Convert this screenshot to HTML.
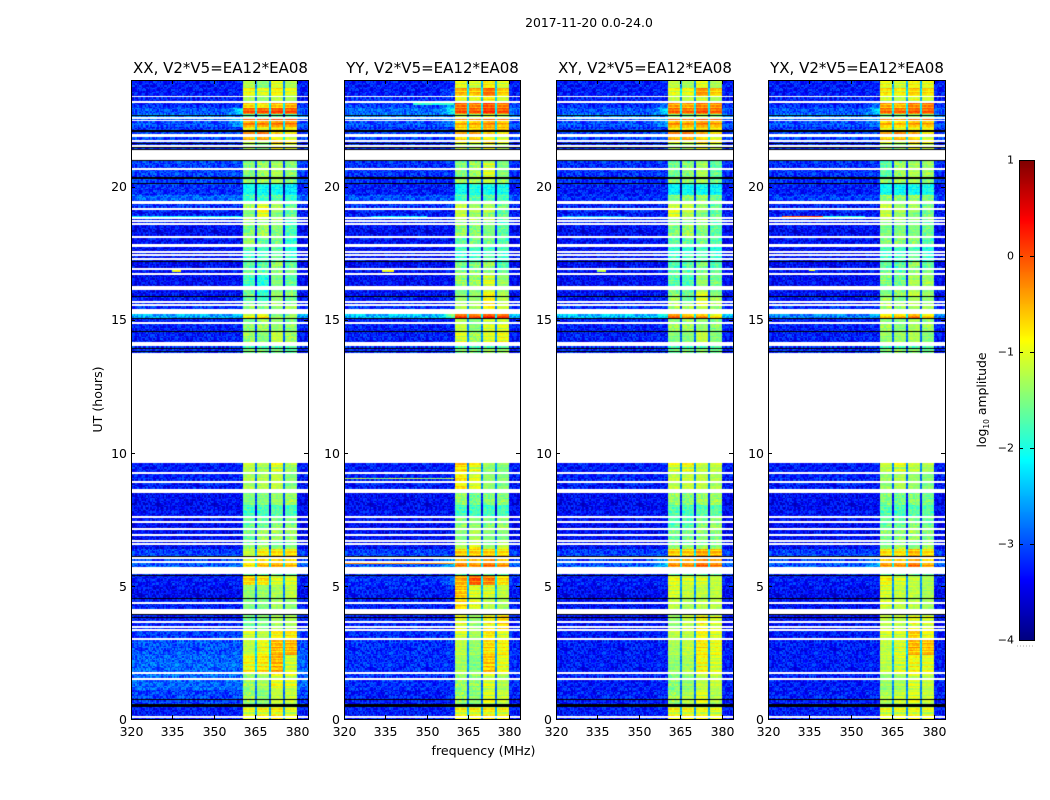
<!DOCTYPE html>
<html>
<head>
<meta charset="utf-8">
<title>2017-11-20 0.0-24.0</title>
<style>
html,body{margin:0;padding:0;background:#fff}
#chart{position:relative;width:1050px;height:800px;overflow:hidden;background:#fff;font-family:"DejaVu Sans","Liberation Sans",sans-serif}
canvas{position:absolute;display:block}
svg{position:absolute;left:0;top:0}
text{font-family:"DejaVu Sans","Liberation Sans",sans-serif;fill:#000}
</style>
</head>
<body>
<div id="chart">
<canvas id="c0"></canvas>
<canvas id="c1"></canvas>
<canvas id="c2"></canvas>
<canvas id="c3"></canvas>
<canvas id="cb"></canvas>
<svg id="ov" width="1050" height="800" viewBox="0 0 1050 800">
<text x="589" y="27" font-size="12.4" text-anchor="middle">2017-11-20 0.0-24.0</text>
<text x="220.5" y="73" font-size="15" text-anchor="middle">XX, V2*V5=EA12*EA08</text>
<text x="432.5" y="73" font-size="15" text-anchor="middle">YY, V2*V5=EA12*EA08</text>
<text x="645" y="73" font-size="15" text-anchor="middle">XY, V2*V5=EA12*EA08</text>
<text x="857" y="73" font-size="15" text-anchor="middle">YX, V2*V5=EA12*EA08</text>
<text x="483.5" y="755" font-size="12.6" text-anchor="middle">frequency (MHz)</text>
<text transform="translate(102,399.5) rotate(-90)" font-size="12.6" text-anchor="middle">UT (hours)</text>
<text transform="translate(986,400) rotate(-90)" font-size="12.4" text-anchor="middle">log<tspan font-size="7.5" dy="3">10</tspan><tspan dy="-3"> amplitude</tspan></text>
<line x1="1017" y1="646" x2="1035" y2="646" stroke="#aaa" stroke-width="1" stroke-dasharray="1 2"/>
</svg>
</div>
<script>
/* Hour at the top of each time band, ending with the bottom of the axis */
const bandTops=[24,23.7,23.4,23.17,22.95,22.72,22.57,22.23,22.05,21.67,21.37,20.96,20.36,20.13,19.68,19.46,19.15,18.82,18.59,18.1,17.77,17.54,17.16,16.68,16.23,15.85,15.55,15.4,15.21,15.02,14.54,14.16,13.9,13.71,9.61,9.24,8.64,8.04,7.59,7.14,6.69,6.38,6.12,5.9,5.71,5.41,5.03,4.54,4.13,3.91,3.34,2.97,2.4,1.77,1.09,0.45,0];
/* log10 amplitude per band: background, then spectral windows 1-4 */
const xxLevels=[[-3.1,-1.25,-1.45,-1.05,-1.3],[-3.1,-.95,-1.05,-.9,-1.05],[-3.1,-1.3,-1.4,-1.2,-1.3],[-3,-.75,-.85,-.6,-.55],[-2.8,-.1,-.1,0,-.05],[-2.6,-1.9,-1.9,-1.8,-1.9],[-2.8,-.3,-.3,-.2,-.25],[-3,-1,-1.1,-.9,-1],[-2.9,-.45,-.35,-.8,-1],[-3,-1.2,-1.4,-.7,-.9],[-3,-1.3,-1.3,-1.2,-1.3],[-2.9,-1.7,-1.6,-1.3,-1.7],[-2.9,-1.7,-1.6,-1.3,-1.7],[-3,-2.3,-2.3,-2.3,-2.5],[-2.7,-2,-2,-1.9,-2.1],[-3,-1.6,-1.1,-1.3,-1.9],[-3.1,-1.5,-1.1,-1.5,-1.9],[-3.1,-1.6,-1.4,-1.6,-2],[-3.2,-1.7,-1.6,-1.7,-2],[-3.2,-1.6,-1.9,-1.8,-2.2],[-3.2,-1.9,-2,-1.9,-2.2],[-3.2,-2,-2,-1.8,-2.1],[-3.2,-1.8,-1.9,-1.6,-1.8],[-3.2,-2,-2.2,-1.5,-1.9],[-3.2,-1.8,-2.1,-1.4,-1.7],[-3.1,-1.9,-2,-1.6,-1.9],[-3,-1.7,-1.8,-1.5,-1.6],[-3,-2,-2,-2,-2],[-2.4,-1,-.85,-1.4,-1.6],[-3.1,-1.7,-1.6,-1.4,-1.7],[-3.1,-1.6,-1.5,-1.2,-1.6],[-3,-2,-2,-2,-2],[-3,-1.7,-1.7,-1.5,-1.9],[-3,-2,-2,-2,-2],[-3.1,-1.2,-1.3,-1.1,-1.6],[-3.1,-1.3,-1.3,-1.2,-1.5],[-3.2,-1.5,-1.5,-1.4,-1.6],[-3.2,-2,-2,-1.9,-2],[-3.2,-1.8,-1.8,-1.7,-1.7],[-3.2,-1.8,-1.6,-1.6,-1.6],[-3.2,-1.7,-1.6,-1.5,-1.5],[-2.9,-1.2,-.9,-.8,-.8],[-2.9,-.8,-.5,-.4,-.5],[-2.8,-.7,-.5,-.4,-.5],[-3,-2,-2,-2,-2],[-3.1,-.7,-.8,-1.1,-1.1],[-3.2,-1.4,-1.4,-1.3,-1.2],[-3.1,-1.5,-1.5,-1.3,-1.4],[-3,-2,-2,-2,-2],[-3.1,-1.8,-1.5,-1.3,-1.3],[-2.9,-1.1,-1.2,-.9,-.85],[-2.8,-1.2,-1,-.55,-.55],[-2.7,-.9,-.8,-.5,-1.1],[-2.7,-1.6,-1.3,-1,-1.1],[-2.9,-1.6,-1.5,-1.2,-1.2],[-3.1,-1.1,-1,-.9,-1.1]];
const yyLevels=[[-3.1,-1,-1.1,-.85,-1.1],[-3.1,-.55,-.6,-.2,-.7],[-3,-.95,-1,-.8,-1.1],[-2.9,-.2,-.3,-.05,-.3],[-2.7,-.05,-.1,.1,-.05],[-2.6,-1.2,-1.3,-1,-1.2],[-2.8,-.5,-.5,-.3,-.5],[-3,-.8,-.8,-.6,-.7],[-2.9,-.6,-.55,-.8,-1],[-3,-1,-1.1,-.8,-1.1],[-3,-1.1,-1.1,-1.1,-1.1],[-3,-1.7,-1.6,-1.1,-1.5],[-3,-1.6,-1.6,-1.2,-1.6],[-3.1,-2.3,-2.2,-2.3,-2.3],[-2.8,-2,-1.9,-1.9,-2],[-3,-1.2,-1.4,-1.3,-1.8],[-3.1,-1.2,-1.4,-1.6,-1.9],[-3.1,-1.6,-1.6,-1.6,-2],[-3.2,-1.6,-1.7,-1.5,-1.9],[-3.2,-1.9,-1.8,-1.8,-2],[-3.2,-2,-2,-2,-2],[-3.2,-2.1,-2.1,-1.9,-2.1],[-3.2,-1.7,-1.7,-1.6,-1.9],[-3.2,-1.6,-1.6,-1.1,-1.4],[-3.2,-1.5,-1.4,-.95,-1.3],[-3.1,-1.4,-1.4,-.9,-1.3],[-3,-1.3,-1.4,-1,-1.2],[-3,-2,-2,-2,-2],[-2.3,0,-.1,.15,0],[-3.1,-1.2,-1.5,-1.1,-1.1],[-3.1,-1.1,-1.6,-1.1,-1],[-3,-2,-2,-2,-2],[-3,-1.7,-1.7,-1.3,-1.6],[-3,-2,-2,-2,-2],[-3.1,-.75,-1,-1.4,-1.5],[-3.1,-.85,-1.1,-1.4,-1.5],[-3.2,-1.6,-1.8,-1.7,-1.7],[-3.2,-2,-2,-2,-2],[-3.2,-1.6,-1.4,-1.7,-1.6],[-3.2,-1.5,-1.3,-1.5,-1.5],[-3.2,-1.3,-1,-1.4,-1.2],[-2.9,-.7,-.7,-.7,-.8],[-2.9,-.3,-.3,-.1,-.4],[-2.8,-.2,-.3,-.1,-.3],[-3,-2,-2,-2,-2],[-3,-.5,-.1,-.3,-.8],[-3.1,-.6,-1.1,-1.1,-1.2],[-3.1,-.7,-1,-1.2,-1.3],[-3,-2,-2,-2,-2],[-3.1,-1,-1.4,-.9,-.7],[-3,-1.1,-1.3,-.85,-1.1],[-3,-1.2,-1.4,-.75,-.9],[-3,-1.3,-1.5,-.6,-1],[-3,-1.6,-1.6,-1.1,-1.3],[-3.1,-1.6,-1.5,-1.1,-1.2],[-3.1,-1,-1,-.9,-1]];
const xyLevels=[[-3.1,-1.2,-1.3,-1,-1.3],[-3.1,-1,-1,-.4,-.7],[-3.1,-1.2,-1.2,-1.1,-1.3],[-3,-.45,-.5,-.3,-.4],[-2.8,-.15,-.2,-.05,-.15],[-2.6,-1.4,-1.5,-1.2,-1.4],[-2.8,-.35,-.4,-.25,-.4],[-3,-.9,-.9,-.8,-.9],[-2.9,-.4,-.35,-.6,-.9],[-3,-1.1,-1.2,-.8,-1],[-3,-1.2,-1.2,-1.2,-1.2],[-3,-1.8,-1.7,-1.3,-1.9],[-3,-1.7,-1.7,-1.3,-1.8],[-3.1,-2.4,-2.3,-2.3,-2.4],[-3,-1.5,-1.6,-1.6,-1.8],[-3.1,-1.2,-1.2,-1.4,-1.9],[-3.1,-1.1,-1.3,-1.5,-1.9],[-3.1,-1.5,-1.5,-1.6,-1.9],[-3.2,-1.7,-1.6,-1.7,-1.9],[-3.2,-1.9,-1.9,-1.8,-2],[-3.2,-2.1,-2.1,-2,-2.2],[-3.2,-2,-2,-1.9,-2.1],[-3.2,-1.9,-1.9,-1.7,-1.9],[-3.2,-1.9,-2,-1.4,-1.8],[-3.2,-1.7,-1.8,-1.1,-1.5],[-3.1,-1.6,-1.8,-1.1,-1.6],[-3,-1.6,-1.6,-1.3,-1.7],[-3,-2,-2,-2,-2],[-2.3,-.2,-.5,-.4,-.8],[-3.1,-1.6,-1.6,-1.4,-1.7],[-3.1,-1.5,-1.5,-1.2,-1.5],[-3,-2,-2,-2,-2],[-3,-1.8,-1.7,-1.4,-1.8],[-3,-2,-2,-2,-2],[-3.1,-1.1,-1,-1.2,-1.2],[-3.1,-1.2,-1.2,-1.2,-1.3],[-3.2,-1.6,-1.7,-1.6,-1.6],[-3.2,-1.9,-2,-1.9,-1.9],[-3.2,-1.9,-1.9,-1.7,-1.6],[-3.2,-1.8,-1.8,-1.7,-1.7],[-3.2,-1.7,-1.7,-1.6,-1.7],[-2.9,-.7,-.7,-.5,-.6],[-2.9,-.25,-.25,-.05,-.2],[-2.8,-.25,-.25,-.05,-.2],[-3,-2,-2,-2,-2],[-3.1,-1,-1.1,-1.1,-1.2],[-3.2,-1.1,-1.2,-1.2,-1.2],[-3.2,-1.2,-1.3,-1.2,-1.2],[-3,-2,-2,-2,-2],[-3.2,-1.4,-1.2,-.9,-1.1],[-3.1,-1.2,-1.2,-.95,-1.1],[-3.1,-1.3,-1.2,-.85,-1],[-3.1,-1.4,-1.3,-.9,-1.1],[-3.1,-1.7,-1.4,-1.2,-1.2],[-3.1,-1.6,-1.3,-1.1,-1.3],[-3.1,-1,-1,-1,-1.1]];
const yxLevels=[[-3.1,-1,-1.1,-.9,-1],[-3.1,-.8,-.9,-.7,-.8],[-3.1,-1.1,-1.2,-1,-1.1],[-3,-.5,-.6,-.3,-.3],[-2.8,-.2,-.2,-.1,-.1],[-2.6,-1.5,-1.5,-1.3,-1.5],[-2.8,-.5,-.6,-.4,-.45],[-3,-1,-1.1,-1,-1],[-2.9,-.55,-.45,-.6,-1],[-3,-1.1,-1.3,-.8,-1],[-3,-1.2,-1.2,-1.2,-1.2],[-3,-1.9,-1.6,-1.3,-1.6],[-3,-1.7,-1.6,-1.3,-1.7],[-3.1,-2.3,-2.3,-2.3,-2.3],[-2.9,-1.6,-1.6,-1.6,-1.7],[-3.1,-1.2,-1.4,-1.3,-1.8],[-3.1,-1.2,-1.4,-1.5,-1.8],[-3.1,-1.4,-1.4,-1.5,-1.8],[-3.2,-1.5,-1.5,-1.5,-1.8],[-3.2,-1.7,-1.7,-1.7,-2],[-3.2,-2,-2,-2,-2.2],[-3.2,-2,-2,-1.8,-2.1],[-3.2,-1.8,-1.9,-1.6,-1.8],[-3.2,-1.7,-1.8,-1.3,-1.6],[-3.2,-1.5,-1.6,-1.2,-1.4],[-3.1,-1.6,-1.7,-1.3,-1.5],[-3,-1.6,-1.7,-1.4,-1.6],[-3,-2,-2,-2,-2],[-2.6,-.7,-.6,-.3,-.7],[-3.1,-1.6,-1.5,-1.3,-1.6],[-3.1,-1.4,-1.4,-1.3,-1.5],[-3,-2,-2,-2,-2],[-3,-1.7,-1.6,-1.4,-1.8],[-3,-2,-2,-2,-2],[-3.1,-1.2,-1.1,-1.2,-1.3],[-3.1,-1.4,-1.3,-1.4,-1.5],[-3.2,-1.7,-1.8,-1.7,-1.8],[-3.2,-1.9,-2,-1.9,-1.9],[-3.2,-1.8,-1.8,-1.7,-1.8],[-3.2,-1.7,-1.7,-1.6,-1.7],[-3.2,-1.5,-1.6,-1.5,-1.6],[-2.9,-.8,-.85,-.6,-.8],[-2.9,-.4,-.4,-.2,-.5],[-2.8,-.3,-.3,-.1,-.4],[-3,-2,-2,-2,-2],[-3.1,-.9,-1.1,-1.2,-1.3],[-3.2,-1.1,-1.2,-1.2,-1.3],[-3.2,-1.1,-1.2,-1.2,-1.3],[-3,-2,-2,-2,-2],[-3.2,-1.2,-1.2,-1,-1.1],[-3.1,-1.1,-1.1,-.7,-1],[-3.1,-1.2,-1.1,-.55,-.6],[-3.1,-1.2,-1.1,-.9,-1],[-3.1,-1.4,-1.3,-1.1,-1.2],[-3.1,-1.3,-1.2,-1.1,-1.2],[-3.1,-1.1,-1.1,-1,-1.1]];
/* Spectral window edges in MHz */
const windowStarts=[360.5,365.5,370.6,375.7];
const windowEnds=[364.7,369.8,374.9,380];
/* Missing-data hours shown white: wide ranges, then single lines */
const whiteRanges=[[21.97,21.86],[21.37,20.99],[17.84,17.73],[15.4,15.21],[14.16,14.01],[13.75,9.61],[8.64,8.49],[5.71,5.45],[4.13,3.94]];
const whiteLines=[23.38,23.17,22.57,22.47,21.71,21.52,20.66,19.44,19.38,19.15,18.82,18.7,18.59,18.1,17.54,17.43,17.28,16.9,16.71,16.23,16.15,15.66,15.55,14.87,9.24,8.9,7.59,7.4,7.14,6.91,6.69,6.57,6.05,5.9,4.36,3.64,3.46,3.34,3,1.73,1.5,.08];
/* Zero-valued hours shown black */
const blackRanges=[[22.12,22.05],[20.37,20.29],[5.42,5.36],[.56,.45]];
const blackLines=[22.68,21.6,21.48,21.39,20.97,20.13,17.2,15.85,15.03,14.54,13.93,13.82,6.12,4.54,3.91,3.83,.75];
/* Narrow-band interference per panel: hour, start MHz, end MHz, log amplitude */
const xxBursts=[[16.82,335,338,-1],[18.85,320,360,-2.2],[15.65,325,330,-1.8]];
const yyBursts=[[16.82,334,338,-1],[18.85,330,350,-2.3],[23.1,345,360,-1.9],[5.87,320,360,-.3],[9.03,320,360,-1.3]];
const xyBursts=[[16.82,335,338,-1.3],[18.85,322,345,-2.5]];
const yxBursts=[[18.87,325,340,0],[16.85,335,337,-1],[18.85,340,355,-2],[15.65,325,330,-1.8]];
/* Hand-typed display texture: a tile of small offsets for the pixel-level speckle */
const speckleTile=[.31,-.22,.08,-.37,.19,-.05,.42,-.29,.12,-.14,.27,-.41,.03,.35,-.18,-.33,.22,.06,-.26,.38,-.09,.15,-.44,.29,-.02,.24,-.31,.11,.4,-.2,-.07,.33,-.36,.17,-.12,.26,-.39,.05,.21,-.24,.36];
const stripeTile=[.12,-.18,.22,.05,-.25,.15,-.08,.26,-.2,.02,.18,-.22,.09,.24,-.15,-.03,.2,-.27,.1,.16,-.12,.07,-.19];
/* Axis ticks */
const freqTicks=[320,335,350,365,380];
const hourTicks=[0,5,10,15,20];
const colorTicks=[1,0,-1,-2,-3,-4];
/* Display adjustments applied to the band levels above */
const backgroundShift=-.18;
const faintWindowLift=.22;

const panelNames=['xx','yy','xy','yx'];
const panelLevels=[xxLevels,yyLevels,xyLevels,yxLevels];
const panelBursts=[xxBursts,yyBursts,xyBursts,yxBursts];
const panelBoxes=[[131,308],[344,520],[556,733],[768,945]];
const axTop=80,axBottom=719,fMin=320,fMax=384,hMin=0,hMax=24,vMin=-4,vMax=1;
function xScale(f,b){return b[0]+(f-fMin)/(fMax-fMin)*(b[1]-b[0]);}
function yScale(h){return axBottom-(h-hMin)/(hMax-hMin)*(axBottom-axTop);}
function invX(px,b){return fMin+(px+.5)/(b[1]-b[0])*(fMax-fMin);}
function invY(py){return hMax-(py+.5)/(axBottom-axTop)*(hMax-hMin);}
function jet(v){
  var t=Math.max(0,Math.min(1,(v-vMin)/(vMax-vMin)));
  function c(x){return Math.round(255*Math.max(0,Math.min(1,x)));}
  return [c(1.5-Math.abs(4*t-3)),c(1.5-Math.abs(4*t-2)),c(1.5-Math.abs(4*t-1))];
}
function inRanges(h,list){
  for(var i=0;i<list.length;i++){if(h<=list[i][0]&&h>=list[i][1])return true;}
  return false;
}
function onLine(h,list,half){
  for(var i=0;i<list.length;i++){if(Math.abs(h-list[i])<half)return true;}
  return false;
}
function bandIndex(h){
  for(var i=0;i<bandTops.length-1;i++){if(h<=bandTops[i]&&h>bandTops[i+1])return i;}
  return bandTops.length-2;
}
function cellValue(levels,bursts,f,h){
  var row=levels[bandIndex(h)];
  var col=Math.floor(f/.5),rw=Math.floor(h/.05);
  var n=speckleTile[(col*col*7+rw*rw*13+col*rw*3+col*11)%speckleTile.length];
  var s=stripeTile[rw%stripeTile.length];
  for(var k=0;k<bursts.length;k++){
    if(Math.abs(h-bursts[k][0])<.03&&f>=bursts[k][1]&&f<=bursts[k][2]&&f<360.5)return bursts[k][3]+n*.5;
  }
  var mean=(row[1]+row[2]+row[3]+row[4])/4;
  for(var w=0;w<4;w++){
    if(f>=windowStarts[w]&&f<=windowEnds[w]){
      var lv=row[w+1];
      if(lv<-1.5)return lv+faintWindowLift+n*.55+s*.45;
      return lv+n*.3+s*(lv>-1.2?1:.45);
    }
  }
  if(f>windowStarts[0]&&f<windowEnds[3])return Math.min(-2.2,mean-1.5)+n*.4;
  var v=row[0]+backgroundShift+n*.85;
  if(f>354&&f<=360.5&&mean>-.7)v+=(mean+.7)*(f-354)/6.5*1.3;
  return v;
}
function drawPanel(i){
  var b=panelBoxes[i],w=b[1]-b[0],h=axBottom-axTop;
  var cv=document.getElementById('c'+i);
  cv.width=w;cv.height=h;
  cv.style.left=b[0]+'px';cv.style.top=axTop+'px';
  var ctx=cv.getContext('2d'),img=ctx.createImageData(w,h),d=img.data;
  for(var py=0;py<h;py++){
    var hr=invY(py);
    var white=inRanges(hr,whiteRanges)||onLine(hr,whiteLines,.024);
    var black=inRanges(hr,blackRanges)||onLine(hr,blackLines,.0188);
    for(var px=0;px<w;px++){
      var p=(py*w+px)*4,c;
      if(black)c=[0,0,0];
      else if(white)c=[255,255,255];
      else c=jet(cellValue(panelLevels[i],panelBursts[i],invX(px,b),hr));
      d[p]=c[0];d[p+1]=c[1];d[p+2]=c[2];d[p+3]=255;
    }
  }
  ctx.putImageData(img,0,0);
}
function drawColorbar(){
  var cv=document.getElementById('cb'),w=15,h=480;
  cv.width=w;cv.height=h;
  cv.style.left='1019px';cv.style.top='160px';
  var ctx=cv.getContext('2d');
  for(var y=0;y<h;y++){
    var c=jet(vMax-(y+.5)/h*(vMax-vMin));
    ctx.fillStyle='rgb('+c[0]+','+c[1]+','+c[2]+')';
    ctx.fillRect(0,y,w,1);
  }
}
var NS='http://www.w3.org/2000/svg',ov=document.getElementById('ov');
function line(x1,y1,x2,y2,name){
  var el=document.createElementNS(NS,'line');
  el.setAttribute('x1',x1);el.setAttribute('y1',y1);el.setAttribute('x2',x2);el.setAttribute('y2',y2);
  el.setAttribute('stroke','#000');el.setAttribute('stroke-width','1');
  el.setAttribute('shape-rendering','crispEdges');
  
  
  ov.appendChild(el);
}
function label(x,y,s,anchor,size,name){
  var el=document.createElementNS(NS,'text');
  el.setAttribute('x',x);el.setAttribute('y',y);
  el.setAttribute('text-anchor',anchor);el.setAttribute('font-size',size);
  el.textContent=s;
  
  
  ov.appendChild(el);
}
function frame(x,y,w,h,name){
  var el=document.createElementNS(NS,'rect');
  el.setAttribute('x',x+.5);el.setAttribute('y',y+.5);el.setAttribute('width',w);el.setAttribute('height',h);
  el.setAttribute('fill','none');el.setAttribute('stroke','#000');
  
  
  ov.appendChild(el);
}
function drawAxes(i){
  var b=panelBoxes[i],n=panelNames[i];
  frame(b[0],axTop,b[1]-b[0],axBottom-axTop,n+'-axes-frame');
  freqTicks.forEach(function(f){
    var x=Math.round(xScale(f,b))+.5;
    line(x,axBottom,x,axBottom-4,n+'-x-tick');
    line(x,axTop,x,axTop+4,n+'-x-tick-top');
    label(x,736,String(f),'middle',12.5,n+'-x-tick-label');
  });
  hourTicks.forEach(function(h){
    var y=Math.round(yScale(h))+.5;
    line(b[0],y,b[0]+4,y,n+'-y-tick');
    line(b[1],y,b[1]-4,y,n+'-y-tick-right');
    label(b[0]-4,y+(h>=15?3.5:4.5),String(h),'end',12.5,n+'-y-tick-label');
  });
}
function drawColorAxis(){
  frame(1019,160,15,480,'colorbar-frame');
  colorTicks.forEach(function(v){
    var y=Math.round(160+(vMax-v)/(vMax-vMin)*480)+.5;
    line(1019,y,1023,y,'colorbar-tick-left');
    line(1034,y,1030,y,'colorbar-tick-right');
    label(1014,y+3,v<0?'\u2212'+(-v):String(v),'end',11,'colorbar-tick-label');
  });
}
[0,1,2,3].forEach(drawPanel);
drawColorbar();
[0,1,2,3].forEach(drawAxes);
drawColorAxis();
</script>
</body>
</html>
